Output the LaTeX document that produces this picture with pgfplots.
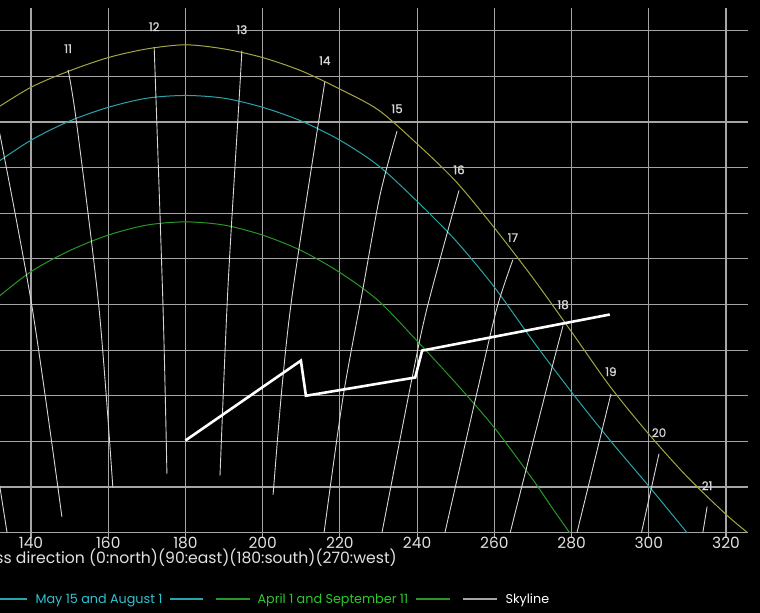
\documentclass[border=0pt]{standalone}
\usepackage{fontspec}
\setmainfont{Poppins}
\newfontfamily\hourfont{Poppins}[FakeBold=1]
\usepackage{pgfplots}
\pgfplotsset{compat=1.18}
\definecolor{gridc}{RGB}{165,165,165}
\definecolor{sunJun}{RGB}{165,165,70}
\definecolor{sunMay}{RGB}{40,165,170}
\definecolor{sunApr}{RGB}{40,150,40}
\definecolor{hourc}{RGB}{215,215,215}
\definecolor{legMay}{RGB}{45,195,210}
\definecolor{legApr}{RGB}{45,200,45}
\definecolor{tickc}{RGB}{225,225,225}

\begin{document}
\begin{tikzpicture}[x=1bp,y=1bp]
\fill[black] (0,0) rectangle (760,613);
\begin{axis}[
    at={(0,88)}, anchor=south west,
    scale only axis, width=748bp, height=525bp,
    xmin=131.97, xmax=325.7, ymin=0, ymax=57.52,
    axis x line*=bottom, axis y line*=left,
    x axis line style={-, draw=gridc, line width=1.2bp},
    y axis line style={draw=none},
    xtick={140,160,...,320}, ytick={5,10,...,55},
    yticklabels={},
    grid=major,
    major grid style={gridc, line width=1.2bp},
    tick align=outside, major tick length=5bp,
    tick style={gridc, line width=1.2bp},
    x tick label style={font=\fontsize{15.5}{18}\selectfont, text=tickc, yshift=4bp},
    /pgf/number format/assume math mode=true,
]

% June 21
\addplot[sunJun, line width=1bp, smooth] coordinates {
    (130,46.2) (140,48.8) (150,50.6) (160,52.05) (170,53.0) (180,53.45)
    (190,53.0) (200,52.05) (210,50.6) (220,48.6) (230,46.3) (240,42.6)
    (250,38.5) (260,33.4) (270,27.9) (280,22.0) (290,16.0) (300,10.8)
    (310,6.1) (320,2.0) (325.6,0)
};

% May 15 and August 1
\addplot[sunMay, line width=1bp, smooth] coordinates {
    (130,40.2) (140,43.0) (150,45.1) (160,46.6) (170,47.6) (180,47.9)
    (190,47.6) (200,46.6) (210,45.1) (220,43.0) (230,40.2) (240,36.3)
    (250,32.0) (260,26.9) (270,21.0) (280,15.4) (290,10.1) (300,5.1)
    (309.9,0)
};

% April 1 and September 11
\addplot[sunApr, line width=1bp, smooth] coordinates {
    (130,25.3) (140,28.6) (150,30.9) (160,32.6) (170,33.7) (180,34.05)
    (190,33.7) (200,32.6) (210,30.9) (220,28.5) (230,25.4) (240,21.0)
    (250,16.4) (260,11.5) (270,5.8) (275,2.7) (279.5,0)
};

% hour lines
\addplot[hourc, line width=0.9bp] coordinates {(131.5,6.2) (133.8,0)};
\addplot[hourc, line width=0.9bp, smooth] coordinates {(131.5,44.6) (140.3,24.65) (148.0,1.75)};
\addplot[hourc, line width=0.9bp, smooth] coordinates {(149.6,50.7) (151.8,44.9) (157.6,24.65) (161.2,4.93)};
\addplot[hourc, line width=0.9bp, smooth] coordinates {(171.9,53.2) (174.2,24.65) (175.2,6.46)};
\addplot[hourc, line width=0.9bp, smooth] coordinates {(194.6,52.8) (194.1,48.9) (191.0,26.8) (188.95,6.25)};
\addplot[hourc, line width=0.9bp, smooth] coordinates {(216.1,49.4) (207.9,26.8) (205.0,15.9) (202.7,4.16)};
\addplot[hourc, line width=0.9bp, smooth] coordinates {(234.8,44.0) (230.4,37.0) (226.0,26.8) (220.8,14.8) (215.9,0)};
\addplot[hourc, line width=0.9bp, smooth] coordinates {(250.85,37.5) (242.6,24.65) (238.2,15.9) (230.9,0)};
\addplot[hourc, line width=0.9bp, smooth] coordinates {(264.8,29.9) (260.7,24.65) (255.8,15.9) (247.2,0)};
\addplot[hourc, line width=0.9bp, smooth] coordinates {(277.8,22.7) (273.6,15.9) (264.1,0)};
\addplot[hourc, line width=0.9bp] coordinates {(290.2,15.2) (281.4,0)};
\addplot[hourc, line width=0.9bp] coordinates {(302.65,8.66) (298.1,0)};
\addplot[hourc, line width=0.9bp] coordinates {(315.1,2.85) (314.0,0)};

% hour labels
\addplot[draw=none, mark=none, nodes near coords, point meta=explicit symbolic,
    every node near coord/.style={anchor=center, inner sep=0pt, yshift=8bp,
        font=\hourfont\fontsize{12}{13}\selectfont, text=hourc}]
    table[meta=lab] {
x y lab
149.6 52.15 11
171.9 54.56 12
194.6 54.23 13
216.1 50.84 14
234.8 45.56 15
250.85 38.88 16
264.8 31.45 17
277.8 24.1 18
290.2 16.76 19
302.65 10.08 20
315.1 4.27 21
};

% skyline
\addplot[white, line width=2.6bp] coordinates {
    (180,10.1) (209.9,18.85) (211.2,15.0) (239.5,17.0) (241.3,19.95) (289.9,23.9)
};
\end{axis}

\node[anchor=base east, inner sep=0pt, text=tickc, font=\fontsize{15.7}{18}\selectfont]
    at (397,49) {Compass direction (0:north)(90:east)(180:south)(270:west)};

\begin{scope}[line width=1.2bp, font=\fontsize{12.8}{14}\selectfont]
\draw[sunMay] (0,14) -- (27,14);
\node[anchor=base west, inner sep=0pt, text=legMay] at (35,9) {May 15 and August 1};
\draw[sunMay] (170,14) -- (203,14);
\draw[sunApr] (216,14) -- (250,14);
\node[anchor=base west, inner sep=0pt, text=legApr] at (257,9) {April 1 and September 11};
\draw[sunApr] (416,14) -- (450,14);
\draw[gridc] (463,14) -- (497,14);
\node[anchor=base west, inner sep=0pt, text=white] at (505,9) {Skyline};
\end{scope}

\pgfresetboundingbox
\path[use as bounding box] (0,0) rectangle (760,613);
\end{tikzpicture}
\end{document}
